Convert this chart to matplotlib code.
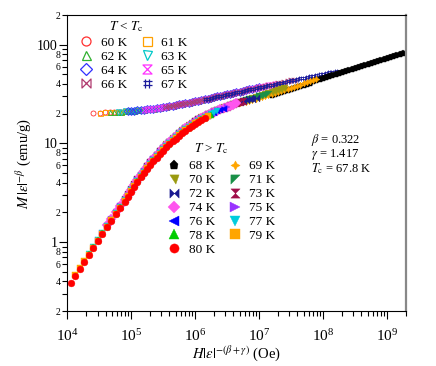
import numpy as np
import matplotlib.pyplot as plt
from matplotlib.path import Path
from matplotlib.ticker import LogLocator, NullFormatter

plt.rcParams['font.family'] = 'Liberation Serif'
plt.rcParams['mathtext.fontset'] = 'stix'

# branche T < Tc : lecture de la courbe (log10 de H|eps|^-(b+g), M|eps|^-b)
upper_logx = [4.40, 4.51, 4.60, 4.67, 4.74, 4.80, 4.85,
              4.90, 4.95, 5.00, 5.05, 5.10, 5.15, 5.20, 5.25, 5.30, 5.35,
              5.40, 5.45, 5.50, 5.55, 5.60, 5.65, 5.70, 5.75, 5.80, 5.85,
              5.90, 5.95, 6.00, 6.05, 6.10, 6.15, 6.20, 6.25, 6.30, 6.35,
              6.40, 6.45, 6.50, 6.55, 6.60, 6.65, 6.70, 6.75, 6.80, 6.85,
              6.90, 6.95, 7.00, 7.05, 7.10, 7.15, 7.20, 7.25, 7.30, 7.35,
              7.40, 7.45, 7.50, 7.55, 7.60, 7.65, 7.70, 7.75, 7.80, 7.85,
              7.90, 7.95, 8.00, 8.05, 8.10, 8.15, 8.20]
upper_y = [20.3, 20.5, 20.6, 20.7, 20.8, 20.9, 21.0,
           21.1, 21.2, 21.4, 21.5, 21.6, 21.8, 21.9, 22.1, 22.2, 22.4,
           22.6, 22.9, 23.2, 23.4, 23.8, 24.1, 24.4, 24.8, 25.1, 25.5,
           25.9, 26.3, 26.7, 27.2, 27.6, 28.1, 28.5, 29.0, 29.4, 29.9,
           30.4, 30.9, 31.4, 31.9, 32.4, 33.0, 33.5, 34.0, 34.6, 35.2,
           35.7, 36.3, 36.9, 37.5, 38.1, 38.7, 39.4, 40.0, 40.6, 41.3,
           42.0, 42.7, 43.4, 44.1, 44.8, 45.5, 46.2, 47.0, 47.8, 48.5,
           49.3, 50.1, 50.9, 51.8, 52.6, 53.5, 54.3]

# branche T > Tc
lower_logx = [4.06, 4.13, 4.20, 4.27, 4.34, 4.41, 4.48, 4.55, 4.62, 4.69,
              4.76, 4.83, 4.90, 4.95, 5.00, 5.05, 5.10, 5.15, 5.20, 5.25,
              5.30, 5.35, 5.40, 5.45, 5.50, 5.55, 5.60, 5.65, 5.70, 5.75,
              5.80, 5.85, 5.90, 5.95, 6.00, 6.05, 6.10, 6.15, 6.20, 6.25,
              6.30, 6.35, 6.40, 6.45, 6.50, 6.55, 6.60, 6.65, 6.70, 6.75,
              6.80, 6.85, 6.90, 6.95, 7.00, 7.05, 7.10, 7.15, 7.20, 7.25,
              7.30, 7.35, 7.40, 7.45, 7.50, 7.55, 7.60, 7.65, 7.70, 7.75,
              7.80, 7.85, 7.90, 7.95, 8.00, 8.05, 8.10, 8.15, 8.20, 8.25,
              8.30, 8.35, 8.40, 8.45, 8.50, 8.55, 8.60, 8.65, 8.70, 8.75,
              8.80, 8.85, 8.90, 8.95, 9.00, 9.05, 9.10, 9.15, 9.20, 9.25]
lower_y = [0.389, 0.457, 0.537, 0.631, 0.741, 0.871, 1.02, 1.20, 1.41, 1.64,
           1.91, 2.21, 2.57, 2.88, 3.24, 3.63, 4.07, 4.54, 5.01, 5.52,
           6.05, 6.61, 7.19, 7.82, 8.47, 9.12, 9.77, 10.5, 11.2, 12.0,
           12.7, 13.5, 14.2, 15.0, 15.8, 16.5, 17.2, 17.9, 18.6, 19.2,
           19.9, 20.5, 21.1, 21.7, 22.3, 22.9, 23.6, 24.2, 24.8, 25.3,
           25.8, 26.4, 26.9, 27.5, 28.2, 28.8, 29.5, 30.2, 30.9, 31.6,
           32.4, 33.1, 33.9, 34.7, 35.5, 36.4, 37.3, 38.3, 39.3, 40.3,
           41.3, 42.4, 43.4, 44.6, 45.7, 46.9, 48.1, 49.3, 50.6, 51.8,
           53.0, 54.2, 55.5, 56.8, 58.1, 59.4, 60.8, 62.2, 63.7, 65.2,
           66.7, 68.2, 69.8, 71.4, 73.1, 74.8, 76.6, 78.3, 80.2, 82.0]

# domaine de chaque temperature (log10 x debut / fin)
upper_temps = [60, 61, 62, 63, 64, 65, 66, 67]
upper_start = [4.40, 4.51, 4.63, 4.77, 4.95, 5.18, 5.51, 6.12]
upper_end = [6.48, 6.59, 6.71, 6.85, 7.03, 7.26, 7.59, 8.20]

lower_temps = [68, 69, 70, 71, 72, 73, 74, 75, 76, 77, 78, 79, 80]
lower_start = [7.17, 5.82, 5.36, 5.08, 4.87, 4.71, 4.58, 4.46, 4.37, 4.28, 4.20, 4.13, 4.06]
lower_end = [9.27, 7.90, 7.44, 7.16, 6.95, 6.79, 6.66, 6.54, 6.45, 6.36, 6.28, 6.21, 6.15]
lower_ratio = [1.0, 1.03, 1.07, 1.06, 1.06, 1.06, 1.05, 1.04, 1.03, 1.03, 1.02, 1.01, 1.0]

# marqueurs
C = [Path.MOVETO, Path.LINETO, Path.LINETO, Path.LINETO, Path.CLOSEPOLY]
hourglass = Path([(-1, 1), (1, 1), (-1, -1), (1, -1), (-1, 1)], C)
bowtie = Path([(-1, -1), (-1, 1), (1, -1), (1, 1), (-1, -1)], C)
hashm = Path([(-0.45, -1), (-0.45, 1), (0.45, -1), (0.45, 1),
              (-1, -0.45), (1, -0.45), (-1, 0.45), (1, 0.45)], [1, 2, 1, 2, 1, 2, 1, 2])
tri70 = Path([(-1, 1), (1, 1), (0.3, -1), (-1, 1)], [1, 2, 2, 79])
tri71 = Path([(-1, 1), (1, 1), (-1, -1), (-1, 1)], [1, 2, 2, 79])

upper_mk = ['o', 's', '^', 'v', 'D', hourglass, bowtie, hashm]
upper_col = ['#ff3030', '#ffa000', '#30b030', '#00c8c8', '#3030ff', '#ff30ff', '#b03a6e', '#1c1c9c']
lower_mk = ['p', (4, 1, 0), tri70, tri71, bowtie, hourglass, 'D', '>', '<', 'v', '^', 's', 'o']
lower_col = ['#000000', '#ffa500', '#9a9a10', '#1a9048', '#1a1a90', '#a0104a', '#ff55ee',
             '#9933ff', '#0000ff', '#00ccdd', '#00cc00', '#ffa500', '#ff0000']

fig = plt.figure(figsize=(4.36, 3.66), dpi=100)
ax = fig.add_axes([0.1537, 0.150, 0.7775, 0.809])

h_up = {}
for t, a, b, mk, c in zip(upper_temps, upper_start, upper_end, upper_mk, upper_col):
    xs = [10**u for u in upper_logx if a <= u <= b]
    ys = [v for u, v in zip(upper_logx, upper_y) if a <= u <= b]
    h_up[t], = ax.plot(xs, ys, ls='none', marker=mk, ms=3.6, mfc='none', mec=c, mew=0.6,
                       label='%d K' % t)

h_lo = {}
for t, a, b, r, mk, c in zip(lower_temps, lower_start, lower_end, lower_ratio, lower_mk, lower_col):
    xs = [10**u for u in lower_logx if a <= u <= b]
    ys = [v * r for u, v in zip(lower_logx, lower_y) if a <= u <= b]
    h_lo[t], = ax.plot(xs, ys, ls='none', marker=mk, ms=4.9, mfc=c, mec=c, mew=0.3,
                       label='%d K' % t)

ax.set_xscale('log')
ax.set_yscale('log')
ax.set_xlim(1e4, 2e9)
ax.set_ylim(0.2, 200)

# ticks
ax.xaxis.set_major_locator(LogLocator(base=10, numticks=20))
ax.xaxis.set_minor_locator(LogLocator(base=10, subs=np.arange(2, 10), numticks=100))
ax.xaxis.set_minor_formatter(NullFormatter())
ax.set_yticks([1, 10, 100])
ax.set_yticklabels(['1', '10', '100'])
ymin_ticks = [0.2, 0.3, 0.4, 0.5, 0.6, 0.7, 0.8, 0.9, 2, 3, 4, 5, 6, 7, 8, 9,
              20, 30, 40, 50, 60, 70, 80, 90, 200]
ymin_labels = ['2', '', '4', '', '6', '', '8', '', '2', '', '4', '', '6', '', '8', '',
               '2', '', '4', '', '6', '', '8', '', '2']
ax.set_yticks(ymin_ticks, minor=True)
ax.set_yticklabels(ymin_labels, minor=True)
ax.tick_params(which='both', direction='out', top=False, right=False, width=0.8)
ax.tick_params(which='major', length=6)
ax.tick_params(which='minor', length=3.5)
ax.tick_params(axis='x', which='major', labelsize=11, pad=6)
ax.tick_params(axis='y', which='major', labelsize=10, pad=1)
ax.tick_params(axis='y', which='minor', labelsize=7, pad=1)

ax.spines['right'].set_color('#888888')
ax.spines['right'].set_linewidth(1.6)

ax.set_xlabel(r'$H|\varepsilon|^{-(\beta+\gamma)}$ (Oe)', fontsize=10.5, labelpad=0)
ax.set_ylabel(r'$M\,|\varepsilon|^{-\beta}$ (emu/g)', fontsize=10.5, labelpad=2)

# legendes
h1 = [h_up[t] for t in [60, 62, 64, 66, 61, 63, 65, 67]]
leg1 = ax.legend(handles=h1, ncol=2, loc='upper left', bbox_to_anchor=(0.037, 0.927),
                 frameon=False, fontsize=9.5, markerscale=1.8, handlelength=1.0,
                 handletextpad=0.6, columnspacing=1.0, labelspacing=0.13,
                 borderpad=0, borderaxespad=0)
for lh in leg1.legend_handles:
    lh.set_markeredgewidth(0.9)
ax.add_artist(leg1)

h2 = [h_lo[t] for t in [68, 70, 72, 74, 76, 78, 80, 69, 71, 73, 75, 77, 79]]
leg2 = ax.legend(handles=h2, ncol=2, loc='upper left', bbox_to_anchor=(0.297, 0.51),
                 frameon=False, fontsize=9.5, markerscale=1.35, handlelength=1.0,
                 handletextpad=0.6, columnspacing=1.0, labelspacing=0.13,
                 borderpad=0, borderaxespad=0)

fig.text(126 / 436, 1 - 27 / 366, r'$T$ < $T_{\rm c}$', fontsize=9.5, ha='center', va='center')
fig.text(211 / 436, 1 - 149 / 366, r'$T$ > $T_{\rm c}$', fontsize=9.5, ha='center', va='center')

fig.text(311 / 436, 1 - 140 / 366, r'$\beta$ = 0.322', fontsize=9, ha='left', va='center')
fig.text(311 / 436, 1 - 154.5 / 366, r'$\gamma$ = 1.417', fontsize=9, ha='left', va='center')
fig.text(311 / 436, 1 - 169 / 366, r'$T_{\rm c}$ = 67.8 K', fontsize=9, ha='left', va='center')

plt.savefig('out.png', dpi=100)
